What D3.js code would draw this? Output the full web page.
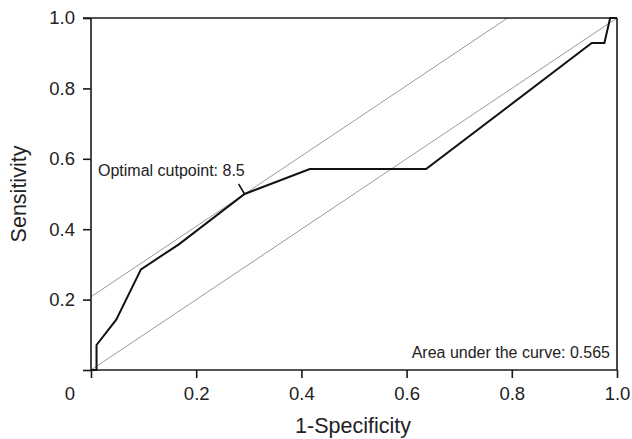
<!DOCTYPE html>
<html>
<head>
<meta charset="utf-8">
<script src="https://cdn.jsdelivr.net/npm/d3@7"></script>
<style>
  html, body { margin: 0; padding: 0; background: #fff; }
  svg { display: block; font-family: "Liberation Sans", Arial, sans-serif; }
</style>
</head>
<body>
<svg id="chart" width="632" height="439"></svg>
<script>
// ROC curve points (1-specificity, sensitivity)
const fpr = [0, 0.0105, 0.0105, 0.048, 0.095, 0.167, 0.292, 0.416, 0.637, 0.952, 0.976, 0.987, 1.0];
const tpr = [0, 0, 0.071, 0.143, 0.286, 0.357, 0.5, 0.571, 0.571, 0.929, 0.929, 1.0, 1.0];
const optimalPoint = [0.292, 0.5];
const optimalLabel = "Optimal cutpoint: 8.5";
const aucLabel = "Area under the curve: 0.565";
const xTicks = [0.2, 0.4, 0.6, 0.8, 1.0];
const yTicks = [0.2, 0.4, 0.6, 0.8, 1.0];
const xTitle = "1-Specificity";
const yTitle = "Sensitivity";

const svg = d3.select("#chart");
const x = d3.scaleLinear().domain([0, 1]).range([91, 617]);
const y = d3.scaleLinear().domain([0, 1]).range([370, 18]);

const axisColor = "#1a1a1a";

// Reference lines: chance diagonal and tangent (slope 1) through optimal point
const intercept = optimalPoint[1] - optimalPoint[0];
const gray = svg.append("g").attr("stroke", "#9a9a9a").attr("stroke-width", 1).attr("fill", "none");
gray.append("line").attr("x1", x(0)).attr("y1", y(0)).attr("x2", x(1)).attr("y2", y(1));
gray.append("line").attr("x1", x(0)).attr("y1", y(intercept)).attr("x2", x(1 - intercept)).attr("y2", y(1));

// X axis
const xAxis = svg.append("g").attr("transform", `translate(0,${y(0)})`)
  .call(d3.axisBottom(x).tickValues([0].concat(xTicks)).tickSize(8).tickPadding(9)
    .tickFormat(d => d === 0 ? "" : d3.format(".1f")(d)));
// Y axis
const yAxis = svg.append("g").attr("transform", `translate(${x(0)},0)`)
  .call(d3.axisLeft(y).tickValues([0].concat(yTicks)).tickSize(8).tickPadding(8)
    .tickFormat(d => d === 0 ? "" : d3.format(".1f")(d)));
[xAxis, yAxis].forEach(a => {
  a.select(".domain").attr("stroke", axisColor).attr("stroke-width", 1.6);
  a.selectAll(".tick line").attr("stroke", axisColor).attr("stroke-width", 1.6);
  a.selectAll(".tick text").attr("fill", "#222").attr("font-size", 18.5)
    .attr("font-family", "'Liberation Sans', Arial, sans-serif");
});
// Remove outer domain ticks so axes are clean lines
xAxis.select(".domain").attr("d", `M${x(0)},0H${x(1)}`);
yAxis.select(".domain").attr("d", `M0,${y(0)}V${y(1)}`);

// Frame top and right
svg.append("line").attr("x1", x(0) - 8).attr("x2", x(1)).attr("y1", y(1)).attr("y2", y(1))
  .attr("stroke", axisColor).attr("stroke-width", 1.6);
svg.append("line").attr("x1", x(1)).attr("x2", x(1)).attr("y1", y(1)).attr("y2", y(0))
  .attr("stroke", axisColor).attr("stroke-width", 1.6);

// Origin label
svg.append("text").attr("x", x(0) - 21).attr("y", y(0) + 24).attr("dy", "0.32em")
  .attr("text-anchor", "middle").attr("font-size", 18.5).attr("fill", "#222").text("0");

// ROC curve
const pts = fpr.map((v, i) => [v, tpr[i]]);
svg.append("path").datum(pts)
  .attr("fill", "none").attr("stroke", "#111").attr("stroke-width", 2)
  .attr("stroke-linejoin", "miter")
  .attr("d", d3.line().x(d => x(d[0])).y(d => y(d[1])));

// Optimal cutpoint annotation
const ox = x(optimalPoint[0]), oy = y(optimalPoint[1]);
svg.append("line").attr("x1", ox).attr("y1", oy).attr("x2", ox - 6).attr("y2", oy - 10)
  .attr("stroke", "#111").attr("stroke-width", 1.5);
svg.append("text").attr("x", 98).attr("y", 176).attr("font-size", 16).attr("fill", "#222")
  .text(optimalLabel);

// AUC annotation
svg.append("text").attr("x", 610).attr("y", 358).attr("text-anchor", "end")
  .attr("font-size", 16).attr("fill", "#222").text(aucLabel);

// Axis titles
svg.append("text").attr("x", 353).attr("y", 433).attr("text-anchor", "middle")
  .attr("font-size", 21.5).attr("fill", "#222").text(xTitle);
svg.append("text").attr("transform", `translate(26,194) rotate(-90)`).attr("text-anchor", "middle")
  .attr("font-size", 21.5).attr("fill", "#222").text(yTitle);
</script>
</body>
</html>
